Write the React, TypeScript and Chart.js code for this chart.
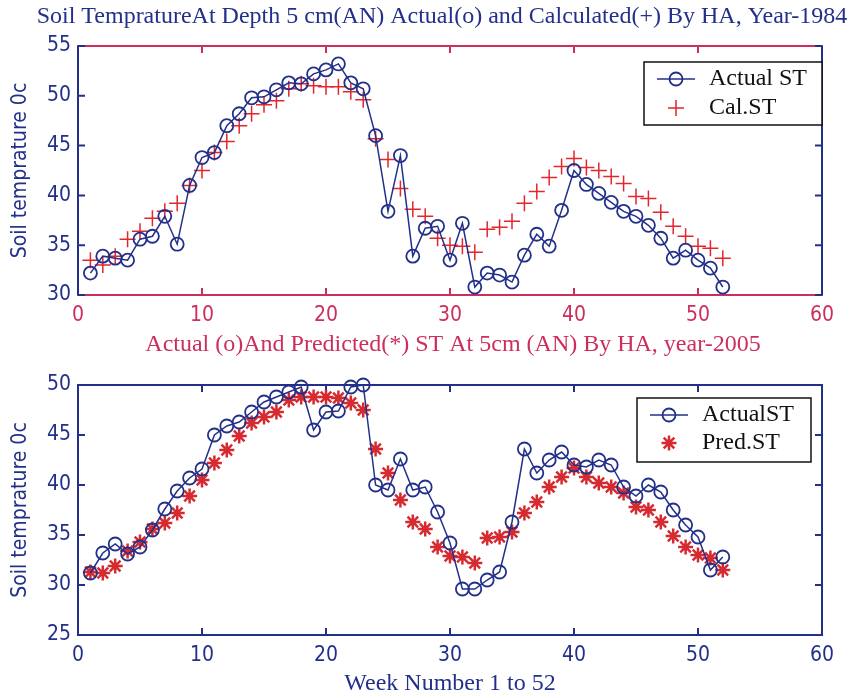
import React, { useEffect, useRef } from "react";
import { Chart, registerables } from "chart.js";

Chart.register(...registerables);

const weeks = [1,2,3,4,5,6,7,8,9,10,11,12,13,14,15,16,17,18,19,20,21,22,23,24,25,26,27,28,29,30,31,32,33,34,35,36,37,38,39,40,41,42,43,44,45,46,47,48,49,50,51,52];

const actual1984 = [32.2,33.9,33.7,33.5,35.6,35.9,37.9,35.1,41.0,43.8,44.3,47.0,48.2,49.8,49.9,50.6,51.3,51.2,52.2,52.6,53.2,51.3,50.7,46.0,38.4,44.0,33.9,36.7,36.9,33.5,37.2,30.8,32.2,32.0,31.3,34.0,36.1,34.9,38.5,42.5,41.1,40.2,39.3,38.4,37.9,37.0,35.7,33.7,34.5,33.5,32.7,30.8];
const cal1984 = [33.5,33.0,33.9,35.6,36.4,37.7,38.4,39.2,41.0,42.5,44.3,45.4,47.0,48.2,49.1,49.5,50.7,51.2,51.0,50.9,50.9,50.4,49.6,45.7,43.6,40.7,38.6,37.9,35.7,35.0,34.9,34.3,36.6,36.8,37.4,39.2,40.4,41.8,42.9,43.7,42.8,42.5,41.9,41.2,39.9,39.7,38.3,36.9,35.9,34.9,34.7,33.7];

const actual2005 = [31.2,33.2,34.1,33.1,33.8,35.5,37.6,39.4,40.7,41.6,45.0,45.9,46.3,47.3,48.3,48.8,49.3,49.8,45.5,47.3,47.4,49.8,50.0,40.0,39.5,42.6,39.5,39.8,37.3,34.2,29.6,29.6,30.5,31.3,36.3,43.6,41.2,42.5,43.3,42.0,41.8,42.5,42.0,39.8,38.9,40.0,39.3,37.5,36.0,34.8,31.5,32.8];
const pred2005 = [31.3,31.2,31.9,33.4,34.3,35.6,36.2,37.2,38.9,40.5,42.2,43.5,44.9,46.2,46.8,47.3,48.5,48.8,48.8,48.8,48.7,48.2,47.5,43.6,41.2,38.5,36.3,35.6,33.8,32.9,32.8,32.2,34.7,34.8,35.3,37.2,38.3,39.8,40.8,41.7,40.8,40.2,39.8,39.2,37.8,37.5,36.3,34.9,33.8,33.0,32.7,31.5];

const xTicks = [0,10,20,30,40,50,60];
const yTicksTop = [30,35,40,45,50,55];
const yTicksBottom = [25,30,35,40,45,50];

const title1984 = "Soil TempratureAt Depth 5 cm(AN) Actual(o) and Calculated(+) By HA, Year-1984";
const title2005 = "Actual (o)And Predicted(*) ST At 5cm (AN) By HA, year-2005";
const yTitle = "Soil temprature 0c";
const xTitle = "Week Number 1 to 52";
const legendTop = ["Actual ST", "Cal.ST"];
const legendBottom = ["ActualST", "Pred.ST"];

const NAVY = "#22308a";
const CRIMSON = "#cc2f5c";
const RED = "#e4262c";
const STAR = "#d42a30";
const SANS = '"Liberation Sans Narrow", "DejaVu Sans Condensed", "Arial Narrow", sans-serif';
const SERIF = '"Liberation Serif", "DejaVu Serif", serif';

function drawMarker(ctx: CanvasRenderingContext2D, kind: string, x: number, y: number, r: number, color: string, lw: number) {
  ctx.save();
  ctx.strokeStyle = color;
  ctx.lineWidth = lw;
  ctx.beginPath();
  if (kind === "circle") {
    ctx.arc(x, y, r, 0, Math.PI * 2);
  } else if (kind === "cross") {
    ctx.moveTo(x - r, y); ctx.lineTo(x + r, y);
    ctx.moveTo(x, y - r); ctx.lineTo(x, y + r);
  } else {
    ctx.moveTo(x - r, y); ctx.lineTo(x + r, y);
    ctx.moveTo(x, y - r); ctx.lineTo(x, y + r);
    const d = r * 0.7071;
    ctx.moveTo(x - d, y - d); ctx.lineTo(x + d, y + d);
    ctx.moveTo(x - d, y + d); ctx.lineTo(x + d, y - d);
  }
  ctx.stroke();
  ctx.restore();
}

const framePlugin = {
  id: "frame",
  beforeDatasetsDraw(chart: any, _a: any, o: any) {
    const { ctx, chartArea: a, scales } = chart;
    ctx.save();
    ctx.lineWidth = 2;
    const tl = 7;
    ctx.strokeStyle = o.hColor;
    ctx.beginPath();
    o.xTicks.forEach((v: number) => {
      const px = scales.x.getPixelForValue(v);
      ctx.moveTo(px, a.bottom); ctx.lineTo(px, a.bottom - tl);
      ctx.moveTo(px, a.top); ctx.lineTo(px, a.top + tl);
    });
    ctx.moveTo(a.left - 1, a.top); ctx.lineTo(a.right + 1, a.top);
    ctx.moveTo(a.left - 1, a.bottom); ctx.lineTo(a.right + 1, a.bottom);
    ctx.stroke();
    ctx.strokeStyle = o.vColor;
    ctx.beginPath();
    o.yTicks.forEach((v: number) => {
      const py = scales.y.getPixelForValue(v);
      ctx.moveTo(a.left, py); ctx.lineTo(a.left + tl, py);
      ctx.moveTo(a.right, py); ctx.lineTo(a.right - tl, py);
    });
    ctx.moveTo(a.left, a.top); ctx.lineTo(a.left, a.bottom);
    ctx.moveTo(a.right, a.top); ctx.lineTo(a.right, a.bottom);
    ctx.stroke();
    ctx.restore();
  },
  afterDraw(chart: any, _a: any, o: any) {
    const { ctx } = chart;
    ctx.save();
    ctx.font = o.titleFont;
    ctx.fillStyle = o.titleColor;
    ctx.textAlign = "center";
    ctx.textBaseline = "middle";
    ctx.fillText(o.title, o.titleX, o.titleY);
    const L = o.legend;
    ctx.fillStyle = "#ffffff";
    ctx.fillRect(L.x, L.y, L.w, L.h);
    ctx.strokeStyle = "#111111";
    ctx.lineWidth = 1.5;
    ctx.strokeRect(L.x, L.y, L.w, L.h);
    ctx.strokeStyle = NAVY;
    ctx.lineWidth = 1.5;
    ctx.beginPath();
    ctx.moveTo(L.lineX0, L.row1); ctx.lineTo(L.lineX1, L.row1);
    ctx.stroke();
    drawMarker(ctx, "circle", L.mx, L.row1, 6.5, NAVY, 1.8);
    drawMarker(ctx, L.kind, L.mx, L.row2, L.kind === "cross" ? 8 : 7.5, L.kind === "cross" ? RED : STAR, L.kind === "cross" ? 1.5 : 2.5);
    ctx.fillStyle = "#111111";
    ctx.font = o.legendFont;
    ctx.textAlign = "left";
    ctx.textBaseline = "middle";
    ctx.fillText(L.labels[0], L.tx, L.row1);
    ctx.fillText(L.labels[1], L.tx, L.row2);
    ctx.restore();
  },
};

function makeConfig(p: any) {
  return {
    type: "line",
    data: {
      datasets: [
        {
          label: p.labels[0],
          data: weeks.map((w, i) => ({ x: w, y: p.actual[i] })),
          borderColor: NAVY,
          borderWidth: 1.5,
          pointStyle: "circle",
          pointRadius: 6.5,
          pointBorderWidth: 1.8,
          pointBorderColor: NAVY,
          pointBackgroundColor: "rgba(0,0,0,0)",
          showLine: true,
          tension: 0,
          clip: false,
          order: 1,
        },
        {
          label: p.labels[1],
          data: weeks.map((w, i) => ({ x: w, y: p.calc[i] })),
          showLine: false,
          pointStyle: p.kind === "cross" ? "cross" : "star",
          pointRadius: p.kind === "cross" ? 8 : 7.5,
          pointBorderWidth: p.kind === "cross" ? 1.5 : 2.5,
          pointBorderColor: p.kind === "cross" ? RED : STAR,
          pointBackgroundColor: p.kind === "cross" ? RED : STAR,
          clip: false,
          order: 2,
        },
      ],
    },
    options: {
      animation: false,
      responsive: false,
      events: [],
      layout: { padding: { top: p.padTop, right: 29, left: 0, bottom: 0 } },
      plugins: {
        legend: { display: false },
        tooltip: { enabled: false },
        title: { display: false },
        frame: {
          hColor: p.hColor,
          vColor: NAVY,
          xTicks,
          yTicks: p.yTicks,
          title: p.title,
          titleColor: p.titleColor,
          titleFont: `24px ${SERIF}`,
          titleX: p.titleX,
          titleY: p.titleY,
          legendFont: `24px ${SERIF}`,
          legend: p.legend,
        },
      },
      scales: {
        x: {
          type: "linear",
          min: 0,
          max: 60,
          grid: { display: false, drawTicks: false },
          border: { display: false },
          afterBuildTicks: (s: any) => { s.ticks = xTicks.map((v) => ({ value: v })); },
          afterFit: (s: any) => { s.height = p.xHeight; },
          ticks: { color: p.xTickColor, font: { family: SANS, size: 21 }, padding: 8, maxRotation: 0, autoSkip: false },
          title: p.xTitle
            ? { display: true, text: p.xTitle, color: NAVY, font: { family: SERIF, size: 24 }, padding: { top: 0, bottom: 0 } }
            : { display: false },
        },
        y: {
          type: "linear",
          min: p.yTicks[0],
          max: p.yTicks[p.yTicks.length - 1],
          grid: { display: false, drawTicks: false },
          border: { display: false },
          afterBuildTicks: (s: any) => { s.ticks = p.yTicks.map((v: number) => ({ value: v })); },
          afterFit: (s: any) => { s.width = 78; },
          ticks: { color: NAVY, font: { family: SANS, size: 21 }, padding: 7 },
          title: { display: true, text: yTitle, color: NAVY, font: { family: SANS, size: 21 }, padding: { top: 8, bottom: 0 } },
        },
      },
    },
    plugins: [framePlugin],
  };
}

export default function App() {
  const topRef = useRef<HTMLCanvasElement>(null);
  const botRef = useRef<HTMLCanvasElement>(null);

  useEffect(() => {
    const c1 = new Chart(topRef.current as HTMLCanvasElement, makeConfig({
      labels: legendTop,
      actual: actual1984,
      calc: cal1984,
      kind: "cross",
      padTop: 46,
      xHeight: 35,
      yTicks: yTicksTop,
      hColor: CRIMSON,
      xTickColor: CRIMSON,
      title: title1984,
      titleColor: NAVY,
      titleX: 442,
      titleY: 17,
      xTitle: null,
      legend: { x: 644, y: 62, w: 178, h: 63, row1: 79, row2: 108, lineX0: 657, lineX1: 695, mx: 676, tx: 709, kind: "cross", labels: legendTop },
    }) as any);
    const c2 = new Chart(botRef.current as HTMLCanvasElement, makeConfig({
      labels: legendBottom,
      actual: actual2005,
      calc: pred2005,
      kind: "star",
      padTop: 55,
      xHeight: 63,
      yTicks: yTicksBottom,
      hColor: NAVY,
      xTickColor: NAVY,
      title: title2005,
      titleColor: CRIMSON,
      titleX: 453,
      titleY: 15,
      xTitle: xTitle,
      legend: { x: 637, y: 68, w: 174, h: 64, row1: 85, row2: 113, lineX0: 650, lineX1: 688, mx: 669, tx: 702, kind: "star", labels: legendBottom },
    }) as any);
    return () => { c1.destroy(); c2.destroy(); };
  }, []);

  return (
    <div style={{ position: "absolute", left: 0, top: 0, width: 851, height: 698, background: "#fff" }}>
      <canvas ref={topRef} width={851} height={330} style={{ position: "absolute", left: 0, top: 0 }} />
      <canvas ref={botRef} width={851} height={368} style={{ position: "absolute", left: 0, top: 330 }} />
    </div>
  );
}
